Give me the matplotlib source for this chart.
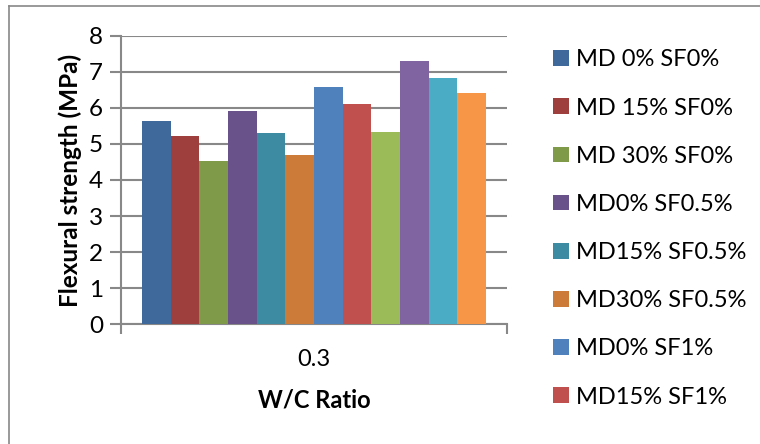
import matplotlib
matplotlib.use("Agg")
import matplotlib.pyplot as plt
from matplotlib.lines import Line2D
import numpy as np

plt.rcParams['font.family'] = ['Lato', 'DejaVu Sans']

categories = ["0.3"]
series = ["MD 0% SF0%", "MD 15% SF0%", "MD 30% SF0%",
          "MD0% SF0.5%", "MD15% SF0.5%", "MD30% SF0.5%",
          "MD0% SF1%", "MD15% SF1%", "MD30% SF1%",
          "MD0% SF1.5%", "MD15% SF1.5%", "MD30% SF1.5%"]
values = [5.63, 5.22, 4.52, 5.91, 5.30, 4.69, 6.57, 6.10, 5.33, 7.29, 6.82, 6.41]
colors = ["#3F699B", "#9E3F3D", "#7F9A48", "#69518A", "#3C8BA2", "#CC7B38",
          "#4F81BD", "#C0504D", "#9BBB59", "#8064A2", "#4BACC6", "#F79646"]
shown_in_legend = 8

W, H = 760, 444
fig = plt.figure(figsize=(W / 100, H / 100), dpi=100)

# outer chart border (left and top edges visible)
grey = "#888888"
fig.add_artist(Line2D([9 / W, 9 / W], [0, 1 - 6 / H], color=grey, lw=1.2, transform=fig.transFigure))
fig.add_artist(Line2D([9 / W, 1], [1 - 6 / H, 1 - 6 / H], color=grey, lw=1.2, transform=fig.transFigure))

left, right, top, bottom = 121, 507, 35.7, 324.3
ax = fig.add_axes([left / W, 1 - bottom / H, (right - left) / W, (bottom - top) / H])

n = len(values)
group_w = 344 / 386
bw = group_w / n
x = np.arange(len(categories))
bars = []
for i, (v, c) in enumerate(zip(values, colors)):
    b = ax.bar(x - group_w / 2 + bw * (i + 0.5), [v], width=bw, color=c, label=series[i], zorder=3)
    bars.append(b)

ax.set_xlim(-0.5, 0.5)
ax.set_ylim(0, 8)
ax.set_yticks(range(0, 9))
ax.yaxis.grid(True, color=grey, lw=1.5, zorder=0)
ax.set_axisbelow(True)
for s in ["top", "right"]:
    ax.spines[s].set_visible(False)
for s in ["left", "bottom"]:
    ax.spines[s].set_color(grey)
    ax.spines[s].set_linewidth(1.5)

ax.set_xticks([-0.5, 0.5])
ax.set_xticklabels(["", ""])
ax.tick_params(axis="x", length=7, width=1.5, color=grey)
ax.tick_params(axis="y", length=8, width=1.5, color=grey, labelsize=17.5, pad=5)
ax.text(0, -0.97, categories[0], ha="center", va="center", fontsize=17)
ax.text(0, -2.1, "W/C Ratio", ha="center", va="center", fontsize=17, fontweight="bold")
ax.set_ylabel("Flexural strength (MPa)", fontsize=17.5, fontweight="bold", labelpad=5)

leg = ax.legend(handles=[b for b in bars[:shown_in_legend]], loc="upper left",
                bbox_to_anchor=(544 / W, 1 - 40 / H), bbox_transform=fig.transFigure,
                frameon=False, fontsize=17, handlelength=0.65, handleheight=0.65,
                handletextpad=0.3, labelspacing=1.15, borderaxespad=0)

fig.savefig("out.png", dpi=100)
